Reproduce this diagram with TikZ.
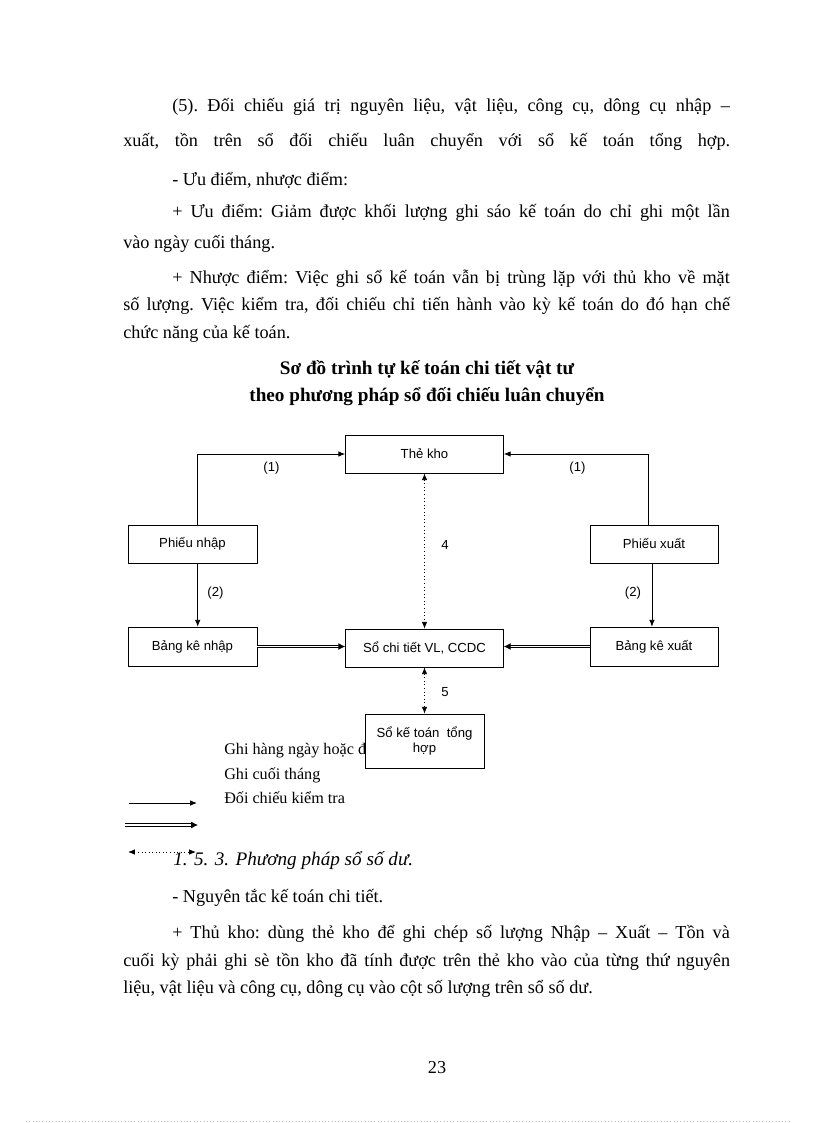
\documentclass[tikz,border=0pt]{standalone}
\usepackage{fontspec}
\setmainfont{Liberation Serif}
\setsansfont{Liberation Sans}
\usetikzlibrary{arrows.meta,positioning}
\newcommand\bodyfont{\fontsize{13.3}{15}\selectfont\frenchspacing}
\newcommand\headfont{\fontsize{14}{16}\selectfont}
\newcommand\cellfont{\sffamily\fontsize{9.6}{11}\selectfont}
\newcommand\keyfont{\fontsize{11.8}{13}\selectfont}
\newcommand\fullline[1]{\hbox to 443pt{#1}}
\newcommand\indline[1]{\hbox to 407pt{#1}}
\tikzset{
  cell/.style 2 args={draw, fill=white, inner sep=1pt, align=center,
    minimum width=#1*0.73pt, minimum height=#2*0.73pt, font=\cellfont},
  lbl/.style={inner sep=0pt, font=\cellfont},
  txt/.style={anchor=west, inner sep=0pt, font=\bodyfont},
  keytxt/.style={anchor=west, inner sep=0pt, font=\keyfont},
  flow/.style={->, line width=0.6pt},
  twin/.style={double, double distance=1.3pt, line width=0.6pt,
    -{Latex[length=5pt,width=5pt]}},
  check/.style={dotted, line width=0.6pt, <->}
}

\begin{document}
\begin{tikzpicture}[x=0.73pt,y=-0.73pt,>={Latex[length=5pt,width=4pt]}]
\fill[white] (0,0) rectangle (816,1123);
\useasboundingbox (0,0) rectangle (816,1123);

% text above the chart
\node[txt] (t1) at (172,107) {\indline{(5). Đối chiếu giá trị nguyên liệu, vật liệu, công cụ, dông cụ nhập –}};
\node[txt] (t2) at (123,142) {\fullline{xuất, tồn trên sổ đối chiếu luân chuyển với sổ kế toán tổng hợp.}};
\node[txt] (t3) at (172,180) {- Ưu điểm, nhược điểm:};
\node[txt] (t4) at (172,213) {\indline{+ Ưu điểm: Giảm được khối lượng ghi sáo kế toán do chỉ ghi một lần}};
\node[txt] (t5) at (123,244) {vào ngày cuối tháng.};
\node[txt] (t6) at (172,279) {\indline{+ Nhược điểm: Việc ghi sổ kế toán vẫn bị trùng lặp với thủ kho về mặt}};
\node[txt] (t7) at (123,306) {\fullline{số lượng. Việc kiểm tra, đối chiếu chỉ tiến hành vào kỳ kế toán do đó hạn chế}};
\node[txt] (t8) at (123,334) {chức năng của kế toán.};
\node[font=\headfont\bfseries, inner sep=0pt] (title1) at (427,369) {Sơ đồ trình tự kế toán chi tiết vật tư};
\node[font=\headfont\bfseries, inner sep=0pt] (title2) at (427,397) {theo phương pháp sổ đối chiếu luân chuyển};

% legend
\node[keytxt] (k1) at (224,751) {Ghi hàng ngày hoặc định kỳ};
\node[keytxt] (k2) at (224,775) {Ghi cuối tháng};
\node[keytxt] (k3) at (224,798) {Đối chiếu kiểm tra};
\coordinate (k1a) at (129,803); \coordinate (k1b) at (197,803);
\coordinate (k2a) at (125,825); \coordinate (k2b) at (198,825);
\coordinate (k3a) at (128,852); \coordinate (k3b) at (196,852);
\draw[flow] (k1a) -- (k1b);
\draw[twin] (k2a) -- (k2b);
\draw[check] (k3a) -- (k3b);

% boxes
\node[cell={158}{38}] (tk)   at (424.5,454)  {Thẻ kho};
\node[cell={129}{38}] (pn)   at (192.5,544)  {Phiếu nhập};
\node[cell={128}{38}] (px)   at (654,544)    {Phiếu xuất};
\node[cell={129}{39}] (bkn)  at (192.5,646.5) {Bảng kê nhập};
\node[cell={158}{38}] (sct)  at (424.5,648)  {Sổ chi tiết VL, CCDC};
\node[cell={128}{39}] (bkx)  at (654,646.5)  {Bảng kê xuất};
\node[cell={119}{54}] (sktt) at (424.5,741)  {Sổ kế toán\ \ tổng\\hợp};

% connectors
\draw[flow] ([xshift=3.8pt]pn.north) |- (tk.west);
\draw[flow] ([xshift=-4.4pt]px.north) |- (tk.east);
\draw[flow] ([xshift=3.8pt]pn.south) -- ([xshift=3.8pt]bkn.north);
\draw[flow] ([xshift=-1.5pt]px.south) -- ([xshift=-1.5pt]bkx.north);
\draw[twin] (bkn.east) -- (bkn.east -| sct.west);
\draw[twin] (bkx.west) -- (bkx.west -| sct.east);
\draw[check] (tk.south) -- (sct.north);
\draw[check] (sct.south) -- (sktt.north);

\node[lbl] (n1l) at (271.5,468) {(1)};
\node[lbl] (n1r) at (577.5,468) {(1)};
\node[lbl] (n2l) at (215.5,593) {(2)};
\node[lbl] (n2r) at (633,593)   {(2)};
\node[lbl] (n4)  at (445,545)   {4};
\node[lbl] (n5)  at (445,692)   {5};

% text below the chart
\node[txt, font=\headfont\itshape] (h1) at (173,861) {1. 5. 3. Phương pháp sổ số dư.};
\node[txt] (t9)  at (172,898) {- Nguyên tắc kế toán chi tiết.};
\node[txt] (t10) at (172,934) {\indline{+ Thủ kho: dùng thẻ kho để ghi chép số lượng Nhập – Xuất – Tồn và}};
\node[txt] (t11) at (123,962) {\fullline{cuối kỳ phải ghi sè tồn kho đã tính được trên thẻ kho vào của từng thứ nguyên}};
\node[txt] (t12) at (123,989) {liệu, vật liệu và công cụ, dông cụ vào cột số lượng trên sổ số dư.};
\node[font=\bodyfont, inner sep=0pt] (pg) at (437,1068) {23};

\coordinate (fa) at (26,1121); \coordinate (fb) at (791,1121);
\draw[black!25, dotted, line width=0.4pt] (fa) -- (fb);
\end{tikzpicture}
\end{document}
